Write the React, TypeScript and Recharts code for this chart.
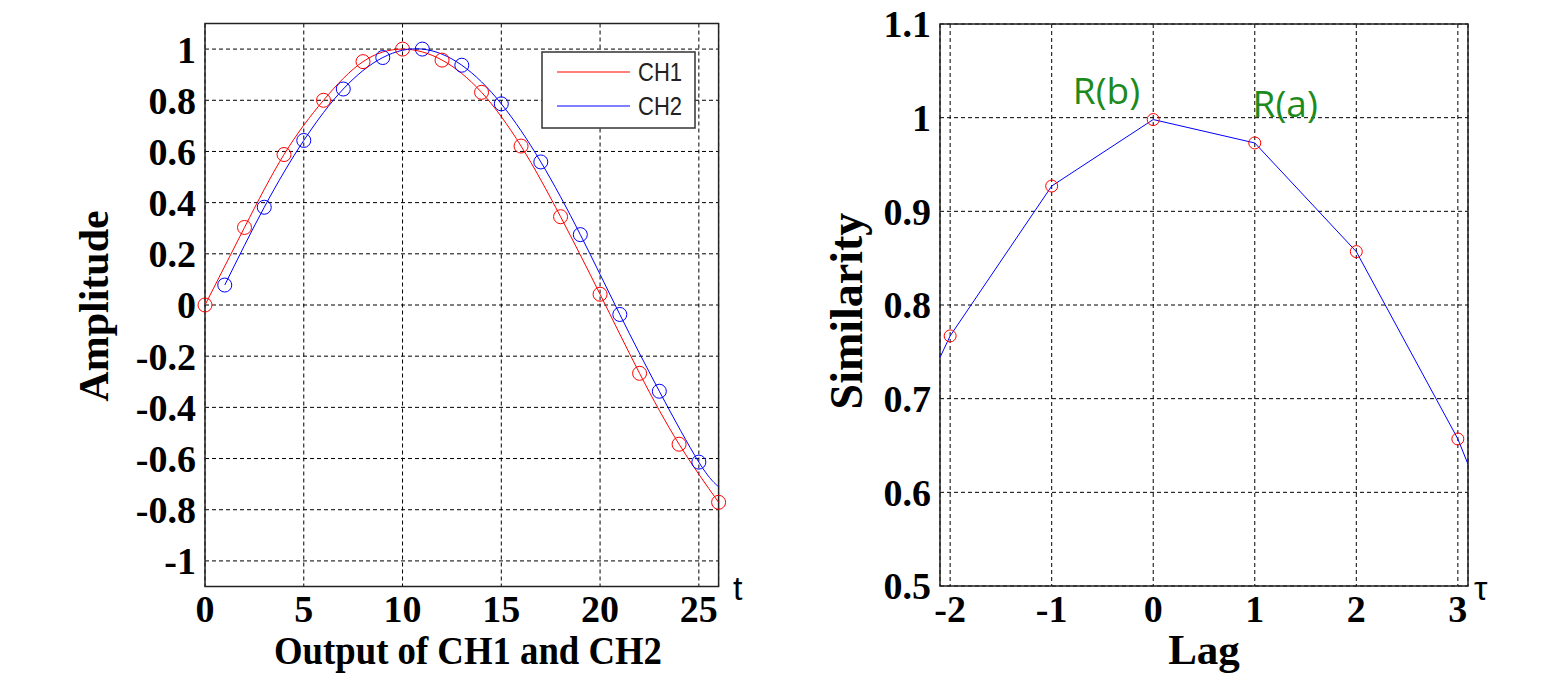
import {
    LineChart,
    Line,
    XAxis,
    YAxis,
    CartesianGrid,
    ReferenceArea,
    ReferenceDot,
} from 'recharts';

// left panel: outputs of the two channels
const ch1T = [0, 2, 4, 6, 8, 10, 12, 14, 16, 18, 20, 22, 24, 26];
const ch1 = [0, 0.303, 0.588, 0.8, 0.951, 1.0, 0.957, 0.831, 0.621, 0.345, 0.042, -0.267, -0.544, -0.771];
const ch2T = [1, 3, 5, 7, 9, 11, 13, 15, 17, 19, 21, 23, 25, 26];
const ch2 = [0.078, 0.382, 0.643, 0.844, 0.967, 1.0, 0.937, 0.786, 0.559, 0.275, -0.037, -0.337, -0.614, -0.71];
const tTicks = [0, 5, 10, 15, 20, 25];
const ampTicks = [-1, -0.8, -0.6, -0.4, -0.2, 0, 0.2, 0.4, 0.6, 0.8, 1];

// right panel: similarity vs lag
const lags = [-2.1, -2, -1, 0, 1, 2, 3, 3.1];
const similarity = [0.744, 0.767, 0.927, 0.998, 0.973, 0.857, 0.657, 0.63];
const lagTicks = [-2, -1, 0, 1, 2, 3];
const simTicks = [0.5, 0.6, 0.7, 0.8, 0.9, 1, 1.1];
const noteText = ['R(b)', 'R(a)'];
const noteLag = [-0.46, 1.3];
const noteSim = [1.029, 1.015];

const ch1Data = ch1T.map((t, i) => ({ t, v: ch1[i] }));
const ch2Data = ch2T.map((t, i) => ({ t, v: ch2[i] }));
const simData = lags.map((lag, i) => ({ lag, s: similarity[i] }));

const SERIF = '"Liberation Serif", "Times New Roman", serif';
const SANS = '"Liberation Sans", Arial, sans-serif';
const fmt = (v: number) => `${Number(v.toFixed(1))}`;
const tickStyle = { fill: '#000', fontSize: 38, fontFamily: SERIF, fontWeight: 700 };

const ch2Dot = (p: any) =>
    p.index === ch2T.length - 1 ? (
        <g key={`b-${p.index}`} />
    ) : (
        <circle key={`b-${p.index}`} cx={p.cx} cy={p.cy} r={7} stroke="#0000ff" strokeWidth={1} fill="none" />
    );

const simDot = (p: any) =>
    p.index === 0 || p.index === lags.length - 1 ? (
        <g key={`s-${p.index}`} />
    ) : (
        <circle key={`s-${p.index}`} cx={p.cx} cy={p.cy} r={6} stroke="#ff0000" strokeWidth={1} fill="none" />
    );

function OutputChart() {
    return (
        <LineChart width={760} height={691} margin={{ top: 23.5, right: 41.4, bottom: 0, left: 0 }}>
            <CartesianGrid stroke="#000" strokeDasharray="4 3" strokeWidth={1} />
            <XAxis
                dataKey="t"
                type="number"
                domain={[0, 26]}
                ticks={tTicks}
                tick={tickStyle}
                tickLine={false}
                axisLine={false}
                tickSize={0}
                tickMargin={9}
                height={104.5}
            />
            <YAxis
                type="number"
                domain={[-1.1, 1.1]}
                ticks={ampTicks}
                tickFormatter={fmt}
                tick={tickStyle}
                tickLine={false}
                axisLine={false}
                tickSize={0}
                tickMargin={9}
                width={205}
            />
            <Line data={ch1Data} dataKey="v" type="natural" stroke="#ff0000" strokeWidth={1}
                dot={{ r: 7, stroke: '#ff0000', strokeWidth: 1, fill: 'none' }} activeDot={false} isAnimationActive={false} />
            <Line data={ch2Data} dataKey="v" type="natural" stroke="#0000ff" strokeWidth={1}
                dot={ch2Dot} activeDot={false} isAnimationActive={false} />
            <ReferenceArea x1={0} x2={26} y1={-1.1} y2={1.1} fill="none" stroke="#222" strokeWidth={1.5} />
        </LineChart>
    );
}

function SimilarityChart() {
    return (
        <LineChart width={760} height={691} margin={{ top: 24, right: 62, bottom: 0, left: 0 }}>
            <CartesianGrid stroke="#000" strokeDasharray="4 3" strokeWidth={1} />
            <XAxis
                dataKey="lag"
                type="number"
                domain={[-2.1, 3.1]}
                ticks={lagTicks}
                tick={tickStyle}
                tickLine={false}
                axisLine={false}
                tickSize={0}
                tickMargin={9}
                height={105}
            />
            <YAxis
                type="number"
                domain={[0.5, 1.1]}
                ticks={simTicks}
                tickFormatter={fmt}
                tick={tickStyle}
                tickLine={false}
                axisLine={false}
                tickSize={0}
                tickMargin={9}
                width={170}
            />
            <Line data={simData} dataKey="s" type="linear" stroke="#0000ff" strokeWidth={1}
                dot={simDot} activeDot={false} isAnimationActive={false} />
            {noteText.map((txt, i) => (
                <ReferenceDot key={txt} x={noteLag[i]} y={noteSim[i]} r={0} fill="none" stroke="none"
                    label={{ value: txt, position: 'center', fill: '#1d8a1d', fontSize: 37, fontFamily: '"Open Sans", sans-serif' }} />
            ))}
            <ReferenceArea x1={-2.1} x2={3.1} y1={0.5} y2={1.1} fill="none" stroke="#222" strokeWidth={1.5} />
        </LineChart>
    );
}

export default function App() {
    return (
        <div style={{ position: 'absolute', left: 0, top: 0, width: 1548, height: 691, background: '#fff' }}>
            <div style={{ position: 'absolute', left: 0, top: 0 }}>
                <OutputChart />
            </div>
            <div style={{ position: 'absolute', left: 770, top: 0 }}>
                <SimilarityChart />
            </div>
            <svg width={1548} height={691} style={{ position: 'absolute', left: 0, top: 0, pointerEvents: 'none' }}>
                <g fontFamily={SERIF} fontWeight={700} fill="#000">
                    <text x={468} y={664} fontSize={41} textAnchor="middle" textLength={388} lengthAdjust="spacingAndGlyphs">
                        Output of CH1 and CH2
                    </text>
                    <text x={1204} y={664} fontSize={43} textAnchor="middle">Lag</text>
                    <text x={108} y={306} fontSize={42} textAnchor="middle" transform="rotate(-90 108 306)">Amplitude</text>
                    <text x={862} y={311} fontSize={46} textAnchor="middle" transform="rotate(-90 862 311)">Similarity</text>
                </g>
                <g fontFamily={SANS} fill="#000">
                    <text x={733} y={600} fontSize={34}>t</text>
                    <text x={1474} y={600} fontSize={34}>τ</text>
                </g>
                <rect x={542} y={52} width={153} height={76} fill="#fff" stroke="#333" strokeWidth={1.5} />
                <line x1={557} y1={72} x2={630} y2={72} stroke="#ff0000" strokeWidth={1.2} />
                <line x1={557} y1={106} x2={630} y2={106} stroke="#0000ff" strokeWidth={1.2} />
                <g fontFamily={SANS} fontSize={25} fill="#222">
                    <text x={638} y={81} textLength={44} lengthAdjust="spacingAndGlyphs">CH1</text>
                    <text x={638} y={115} textLength={44} lengthAdjust="spacingAndGlyphs">CH2</text>
                </g>
            </svg>
        </div>
    );
}
